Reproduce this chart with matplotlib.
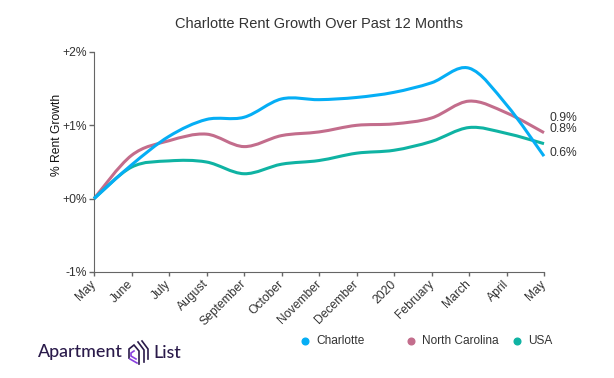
"""Charlotte rent growth line chart with Apartment List footer."""

import matplotlib
matplotlib.use("Agg")  # no display in the sandbox
import matplotlib.pyplot as plt
import numpy as np
from matplotlib.lines import Line2D
from matplotlib.patches import PathPatch
from matplotlib.path import Path
from matplotlib.transforms import ScaledTranslation

months = ["May", "June", "July", "August", "September", "October", "November",
          "December", "2020", "February", "March", "April", "May"]
charlotte = [0, 0.46, 0.85, 1.08, 1.11, 1.36, 1.35, 1.38, 1.45, 1.58, 1.78, 1.28, 0.58]
north_carolina = [0, 0.59, 0.79, 0.88, 0.71, 0.86, 0.91, 1.00, 1.02, 1.10, 1.33, 1.17, 0.90]
usa = [0, 0.43, 0.515, 0.50, 0.34, 0.47, 0.52, 0.62, 0.66, 0.78, 0.97, 0.89, 0.75]
y_ticks = [-1, 0, 1, 2]
y_tick_labels = ["-1%", "+0%", "+1%", "+2%"]
end_labels = ["0.6%", "0.9%", "0.8%"]

W, H = 614, 378
CHARLOTTE_COLOR = "#05aef5"
NC_COLOR = "#c36d8c"
USA_COLOR = "#0fb3a3"
TEXT_COLOR = "#333333"
AXIS_COLOR = "#666666"
LOGO_COLOR = "#2a1a4a"
LOGO_ACCENT = "#8a3fe0"
FONT_SIZE = 8.7

plt.rcParams["font.family"] = ["Liberation Sans", "DejaVu Sans"]


def smooth_path(x, y, tension=0.5):
    """Cardinal spline through the points, as bezier segments."""
    x = np.asarray(x, float)
    y = np.asarray(y, float)
    verts = [(x[0], y[0])]
    codes = [Path.MOVETO]
    for i in range(len(x) - 1):
        i0, i3 = max(i - 1, 0), min(i + 2, len(x) - 1)
        c1 = (x[i] + (x[i + 1] - x[i0]) * tension / 3,
              y[i] + (y[i + 1] - y[i0]) * tension / 3)
        c2 = (x[i + 1] - (x[i3] - x[i]) * tension / 3,
              y[i + 1] - (y[i3] - y[i]) * tension / 3)
        verts += [c1, c2, (x[i + 1], y[i + 1])]
        codes += [Path.CURVE4] * 3
    return Path(verts, codes)


def fig_xy(px, py):
    return px / W, 1 - py / H


def logo_line(points, color=LOGO_COLOR):
    fig.add_artist(Line2D([p[0] / W for p in points], [1 - p[1] / H for p in points],
                          color=color, lw=1.2, solid_joinstyle="miter"))


fig = plt.figure(figsize=(W / 100, H / 100), dpi=100, facecolor="white")
# plot area in reference pixels: x 94..544, y 52..272
ax = fig.add_axes([94 / W, 1 - 272 / H, 450 / W, 220 / H])

x = np.arange(len(months))
for values, color, zorder in [(north_carolina, NC_COLOR, 2),
                              (usa, USA_COLOR, 3),
                              (charlotte, CHARLOTTE_COLOR, 4)]:
    ax.add_patch(PathPatch(smooth_path(x, values), fill=False, edgecolor=color,
                           lw=2.2, capstyle="butt", zorder=zorder, clip_on=False))

ax.set_xlim(0, len(months) - 1)
ax.set_ylim(-1, 2)
ax.set_xticks(x)
ax.set_xticklabels(months, rotation=45, ha="right", rotation_mode="anchor",
                   fontsize=FONT_SIZE, color=TEXT_COLOR)
ax.set_yticks(y_ticks)
ax.set_yticklabels(y_tick_labels, fontsize=FONT_SIZE, color=TEXT_COLOR)
ax.set_ylabel("% Rent Growth", fontsize=FONT_SIZE, color="#111111")
ax.yaxis.set_label_coords((63 - 94) / 450, (272 - 135) / 220)
ax.tick_params(length=3.4, width=1, color=AXIS_COLOR, pad=1.5)
ax.tick_params(axis="x", length=2.8)
ax.spines[["top", "right"]].set_visible(False)
ax.spines[["left", "bottom"]].set_color(AXIS_COLOR)

# nudge the rotated month labels so they end under their ticks
shift = ScaledTranslation(-4 / 100, 0, fig.dpi_scale_trans)
for label in ax.get_xticklabels():
    label.set_transform(label.get_transform() + shift)

# end of line value labels
fig.text(*fig_xy(549, 118), end_labels[1], fontsize=FONT_SIZE, color=TEXT_COLOR, va="center")
fig.text(*fig_xy(549, 129), end_labels[2], fontsize=FONT_SIZE, color=TEXT_COLOR, va="center")
fig.text(*fig_xy(549, 153.5), end_labels[0], fontsize=FONT_SIZE, color=TEXT_COLOR, va="center")

fig.text(*fig_xy(319, 23.5), "Charlotte Rent Growth Over Past 12 Months", fontsize=10.55,
         color=TEXT_COLOR, ha="center", va="center")

# legend
for px, label, color in [(305, "Charlotte", CHARLOTTE_COLOR),
                         (411, "North Carolina", NC_COLOR),
                         (517, "USA", USA_COLOR)]:
    fx, fy = fig_xy(px, 341)
    fig.add_artist(Line2D([fx], [fy], marker="o", ms=4.8, color=color, mec=color, ls="none"))
    fig.text(*fig_xy(px + 11, 341), label, fontsize=8.6, color=TEXT_COLOR, va="center")

# Apartment List logo
fig.text(*fig_xy(38, 352.5), "Apartment", family="Lato", fontsize=12.8, fontweight="medium",
         color=LOGO_COLOR, va="center")
fig.text(*fig_xy(153, 352.5), "List", family="Lato", fontsize=12.8, fontweight="medium",
         color=LOGO_COLOR, va="center")
logo_line([(129, 358), (129, 349), (134, 345), (139, 351), (139, 364)])
logo_line([(138, 342), (144, 350), (144, 362)])
logo_line([(142, 341), (148, 349), (148, 359)])
logo_line([(134, 351), (131, 353), (131, 356), (136, 359)], LOGO_ACCENT)
logo_line([(130, 359), (137, 363)], LOGO_ACCENT)

fig.savefig("out.png", dpi=100)
